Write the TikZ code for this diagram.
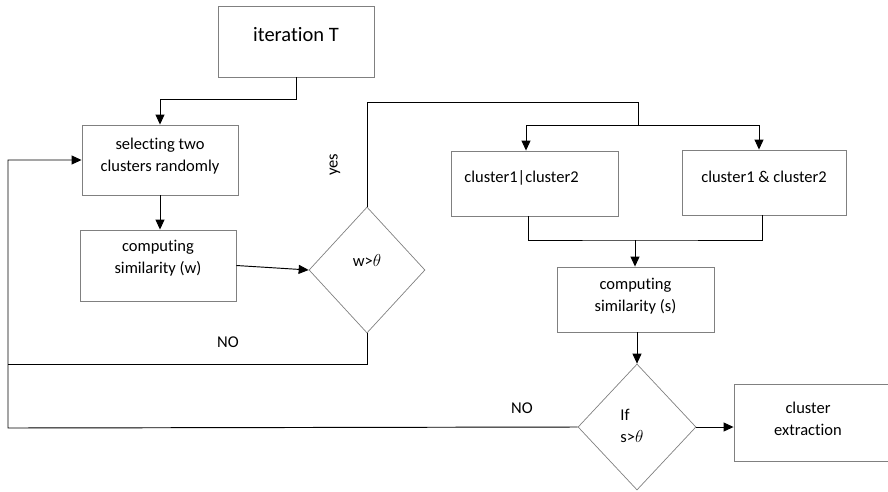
\documentclass[tikz,border=0pt]{standalone}
\usepackage{fontspec}
\setmainfont{Carlito}[Ligatures=NoCommon]
\usetikzlibrary{arrows.meta,shapes.geometric}

\tikzset{
  box/.style={draw=black!50, line width=0.9pt, minimum width=#1, inner sep=0pt},
  diam/.style={diamond, draw=black!50, line width=0.7pt, inner sep=0pt},
  txt/.style={font=\fontsize{16.5}{22}\selectfont, align=center},
  conn/.style={draw=black, line width=0.95pt},
  arr/.style={conn, -{Triangle[length=10pt,width=9pt]}},
}

\begin{document}
\begin{tikzpicture}[x=1pt, y=-1pt]
\useasboundingbox (0,0) rectangle (888,491);

% process boxes (text set with a small offset inside each box)
\node[box=156pt, minimum height=71pt,
      label={[font=\fontsize{20.5}{24}\selectfont, yshift=7pt]center:iteration T}] (it) at (296,41.5) {};
\node[box=156pt, minimum height=70pt,
      label={[txt, yshift=4pt]center:selecting two\\clusters randomly}] (sel) at (160,160) {};
\node[box=156pt, minimum height=71pt,
      label={[txt, yshift=7pt]center:computing\\similarity (w)}] (cw) at (158,265.5) {};
\node[box=167pt, minimum height=65pt,
      label={[txt, xshift=-13pt, yshift=6pt]center:cluster1|cluster2}] (c1) at (534.5,183.5) {};
\node[box=164pt, minimum height=65pt,
      label={[txt, yshift=5.5pt]center:cluster1 \& cluster2}] (c2) at (764,182.5) {};
\node[box=157pt, minimum height=65pt,
      label={[txt, yshift=3.5pt]center:computing\\similarity (s)}] (cs) at (635.5,299.5) {};
\node[box=154pt, minimum height=77pt,
      label={[txt, xshift=-3pt, yshift=3.5pt]center:cluster\\extraction}] (ce) at (811,422.5) {};

% decisions
\node[diam, minimum width=116pt, minimum height=126pt,
      label={[txt, yshift=10pt]center:w>$\theta$}] (d1) at (367,270) {};
\node[diam, minimum width=118pt, minimum height=126pt,
      label={[txt, align=left, xshift=-5pt, yshift=1pt]center:If\\s>$\theta$}] (d2) at (637,427) {};

% bend and junction points
\coordinate (ytop) at (638,102);
\coordinate (ysplit) at (638,125);
\coordinate (merge) at (635,240);
\coordinate (noA) at (8,364);
\coordinate (noB) at (8,428);

% connectors
\draw[arr] (it.south) -- ++(0,22) -| (sel.north);
\draw[arr] (sel.south) -- (sel.south |- cw.north);
\draw[arr] (cw.east) -- (d1.west);
\draw[conn] (d1.north) |- (ytop) -- (ysplit);
\draw[arr] (ysplit) -| ([xshift=-8.5pt]c1.north);
\draw[arr] (ysplit) -| ([xshift=-5pt]c2.north);
\draw[conn] ([xshift=-6pt]c1.south) |- (merge) -| ([xshift=-2pt]c2.south);
\draw[arr] (merge) -- (merge |- cs.north);
\draw[arr] (cs.south -| d2.north) -- (d2.north);
\draw[arr] (d2.east) -- (d2.east -| ce.west);
\draw[conn] (d1.south) |- (noA);
\draw[arr] (d2.west) -- (noB) |- (sel.west);

% branch labels
\node[txt, rotate=90] (lyes) at (335,165) {yes};
\node[txt] (lno1) at (228,342) {NO};
\node[txt] (lno2) at (522,408) {NO};
\end{tikzpicture}
\end{document}
